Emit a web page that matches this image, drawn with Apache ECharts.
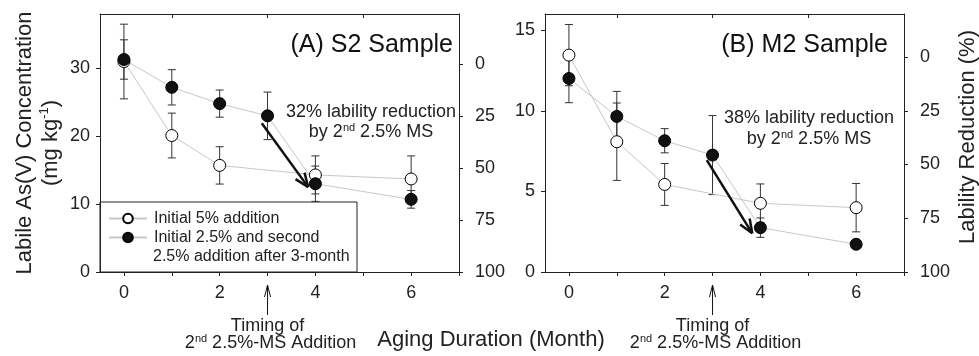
<!DOCTYPE html>
<html>
<head>
<meta charset="utf-8">
<title>Labile As(V) Concentration</title>
<script src="https://cdn.jsdelivr.net/npm/echarts@6/dist/echarts.min.js"></script>
<style>
  html, body { margin: 0; padding: 0; background: #fff; }
  #chart { width: 979px; height: 356px; }
</style>
</head>
<body>
<div id="chart"></div>
<script>
// (A) S2 sample
var monthsOpenA = [0, 1, 2, 4, 6];
var openA = [31.0, 20.1, 15.7, 14.3, 13.7];
var openErrA = [5.5, 3.3, 2.75, 2.8, 3.4];
var monthsFillA = [0, 1, 2, 3, 4, 6];
var fillA = [31.3, 27.2, 24.8, 23.0, 13.0, 10.7];
var fillErrA = [2.9, 2.6, 2.0, 3.5, 2.6, 1.3];
// (B) M2 sample
var monthsOpenB = [0, 1, 2, 4, 6];
var openB = [13.45, 8.08, 5.43, 4.26, 3.99];
var openErrB = [1.9, 2.4, 1.3, 1.2, 1.5];
var monthsFillB = [0, 1, 2, 3, 4, 6];
var fillB = [12.0, 9.65, 8.14, 7.25, 2.75, 1.72];
var fillErrB = [1.5, 1.55, 0.75, 2.45, 0.6, 0.2];

// arrows: [x1, y1, x2, y2] in months / concentration
var arrowA = [2.88, 21.9, 3.85, 12.5];
var arrowB = [2.88, 6.94, 3.83, 2.4];
var timingMonth = 3;

var monthLabels = [0, 2, 4, 6];
var monthTicks = [0, 1, 2, 3, 4, 5, 6, 7];
var topTicks = [1, 3, 5];
var concTicksA = [0, 10, 20, 30];
var concTicksB = [0, 5, 10, 15];
var reductionTicks = [0, 25, 50, 75, 100];

var nameOpen = 'Initial 5% addition';
var nameFill = 'Initial 2.5% and second';

var FONT = 'Liberation Sans, Arial, sans-serif';
var INK = '#222';
var supRich = { sup: { fontSize: 11, verticalAlign: 'top', fontFamily: FONT, fill: INK, color: INK } };

function pairs(xs, ys) {
    return xs.map(function (x, i) { return [x, ys[i]]; });
}

function errSeries(xs, ys, es, ai) {
    return {
        type: 'custom', xAxisIndex: ai * 2, yAxisIndex: ai * 2, silent: true, z: 2,
        data: xs.map(function (x, i) { return [x, ys[i] - es[i], ys[i] + es[i]]; }),
        renderItem: function (params, api) {
            var lo = api.coord([api.value(0), api.value(1)]);
            var hi = api.coord([api.value(0), api.value(2)]);
            var w = 4, st = { stroke: '#333', lineWidth: 1 };
            return { type: 'group', children: [
                { type: 'line', shape: { x1: lo[0], y1: lo[1], x2: hi[0], y2: hi[1] }, style: st },
                { type: 'line', shape: { x1: lo[0] - w, y1: lo[1], x2: lo[0] + w, y2: lo[1] }, style: st },
                { type: 'line', shape: { x1: hi[0] - w, y1: hi[1], x2: hi[0] + w, y2: hi[1] }, style: st }
            ] };
        }
    };
}

function lineSeries(name, xs, ys, ai, filled) {
    return {
        type: 'line', name: name, xAxisIndex: ai * 2, yAxisIndex: ai * 2, z: 3,
        data: pairs(xs, ys),
        symbol: 'circle', symbolSize: 12, showAllSymbol: true,
        lineStyle: { color: '#c8c8c8', width: 1 },
        itemStyle: { color: filled ? '#111' : '#fff', borderColor: '#000', borderWidth: 1 },
        emphasis: { disabled: true }
    };
}

function arrowSeries(arr, ai) {
    return {
        type: 'custom', xAxisIndex: ai * 2, yAxisIndex: ai * 2, silent: true, z: 4,
        data: [arr],
        renderItem: function (params, api) {
            var a = api.coord([api.value(0), api.value(1)]);
            var b = api.coord([api.value(2), api.value(3)]);
            var ang = Math.atan2(b[1] - a[1], b[0] - a[0]);
            var L = 15, sp = 0.38, st = { stroke: '#111', lineWidth: 2.5 };
            return { type: 'group', children: [
                { type: 'line', shape: { x1: a[0], y1: a[1], x2: b[0], y2: b[1] }, style: st },
                { type: 'line', shape: { x1: b[0], y1: b[1], x2: b[0] - L * Math.cos(ang - sp), y2: b[1] - L * Math.sin(ang - sp) }, style: st },
                { type: 'line', shape: { x1: b[0], y1: b[1], x2: b[0] - L * Math.cos(ang + sp), y2: b[1] - L * Math.sin(ang + sp) }, style: st }
            ] };
        }
    };
}

function timingSeries(ai) {
    return {
        type: 'custom', xAxisIndex: ai * 2, yAxisIndex: ai * 2, silent: true, clip: false,
        data: [[timingMonth, 0]],
        renderItem: function (params, api) {
            var p = api.coord([api.value(0), api.value(1)]);
            var x = p[0], y0 = p[1];
            var st = { stroke: '#111', lineWidth: 1 };
            return { type: 'group', children: [
                { type: 'line', shape: { x1: x, y1: y0 + 13, x2: x, y2: y0 + 43 }, style: st },
                { type: 'line', shape: { x1: x, y1: y0 + 13, x2: x - 3, y2: y0 + 25 }, style: st },
                { type: 'line', shape: { x1: x, y1: y0 + 13, x2: x + 3, y2: y0 + 25 }, style: st },
                { type: 'text', x: x, y: y0 + 54, style: { text: 'Timing of', font: '18px ' + FONT, fill: INK, align: 'center', verticalAlign: 'middle' } },
                { type: 'text', x: x + 3, y: y0 + 71, style: { text: '2{sup|nd} 2.5%-MS Addition', font: '18px ' + FONT, fill: INK, align: 'center', verticalAlign: 'middle', lineHeight: 20, rich: supRich } }
            ] };
        }
    };
}

function bottomAxis(gi) {
    return {
        type: 'value', gridIndex: gi, position: 'bottom', min: -0.5, max: 7,
        axisLine: { onZero: false, lineStyle: { color: INK, width: 1 } },
        axisTick: { length: 4, customValues: monthTicks, lineStyle: { color: INK } },
        axisLabel: { customValues: monthLabels, fontSize: 18, fontFamily: FONT, color: INK, margin: 12 },
        splitLine: { show: false }
    };
}
function topAxis(gi) {
    return {
        type: 'value', gridIndex: gi, position: 'top', min: -0.5, max: 7,
        axisLine: { onZero: false, lineStyle: { color: INK, width: 1 } },
        axisTick: { inside: true, length: 4, customValues: topTicks, lineStyle: { color: INK } },
        axisLabel: { show: false },
        splitLine: { show: false }
    };
}
function concAxis(gi, max, ticks) {
    return {
        type: 'value', gridIndex: gi, position: 'left', min: 0, max: max,
        axisLine: { show: true, onZero: false, lineStyle: { color: INK, width: 1 } },
        axisTick: { show: true, length: 4, customValues: ticks, lineStyle: { color: INK } },
        axisLabel: { customValues: ticks, fontSize: 18, fontFamily: FONT, color: INK, margin: 10 },
        splitLine: { show: false }
    };
}
function reductionAxis(gi, min) {
    return {
        type: 'value', gridIndex: gi, position: 'right', inverse: true, min: min, max: 100,
        axisLine: { show: true, onZero: false, lineStyle: { color: INK, width: 1 } },
        axisTick: { show: true, length: 4, customValues: reductionTicks, lineStyle: { color: INK } },
        axisLabel: { customValues: reductionTicks, fontSize: 18, fontFamily: FONT, color: INK, margin: 16 },
        splitLine: { show: false }
    };
}

var chart = echarts.init(document.getElementById('chart'), null, { renderer: 'canvas' });
chart.setOption({
    animation: false,
    backgroundColor: '#fff',
    grid: [
        { left: 100, top: 14, width: 359, height: 258 },
        { left: 545, top: 14, width: 359, height: 258 }
    ],
    xAxis: [bottomAxis(0), topAxis(0), bottomAxis(1), topAxis(1)],
    yAxis: [concAxis(0, 38, concTicksA), reductionAxis(0, -24), concAxis(1, 16, concTicksB), reductionAxis(1, -20)],
    legend: {
        data: [nameOpen, nameFill],
        orient: 'vertical', left: 108, top: 209, padding: 0,
        itemWidth: 38, itemHeight: 12, itemGap: 0, selectedMode: false,
        textStyle: { fontSize: 16, fontFamily: FONT, color: INK, lineHeight: 19, padding: [0, 0, 0, 2] }
    },
    series: [
        errSeries(monthsOpenA, openA, openErrA, 0),
        errSeries(monthsFillA, fillA, fillErrA, 0),
        lineSeries(nameOpen, monthsOpenA, openA, 0, false),
        lineSeries(nameFill, monthsFillA, fillA, 0, true),
        arrowSeries(arrowA, 0),
        timingSeries(0),
        errSeries(monthsOpenB, openB, openErrB, 1),
        errSeries(monthsFillB, fillB, fillErrB, 1),
        lineSeries(nameOpen, monthsOpenB, openB, 1, false),
        lineSeries(nameFill, monthsFillB, fillB, 1, true),
        arrowSeries(arrowB, 1),
        timingSeries(1)
    ],
    graphic: [
        // legend frame + wrapped second line
        { type: 'rect', z: 0, shape: { x: 100, y: 202, width: 257, height: 70 }, style: { fill: '#fff', stroke: INK, lineWidth: 1 } },
        { type: 'text', x: 153, y: 257, z: 5, style: { text: '2.5% addition after 3-month', font: '16px ' + FONT, fill: INK, verticalAlign: 'middle' } },
        // panel titles
        { type: 'text', x: 453, y: 45, style: { text: '(A) S2 Sample', font: '25px ' + FONT, fill: '#111', align: 'right', verticalAlign: 'middle' } },
        { type: 'text', x: 888, y: 45, style: { text: '(B) M2 Sample', font: '25px ' + FONT, fill: '#111', align: 'right', verticalAlign: 'middle' } },
        // reduction notes
        { type: 'text', x: 371, y: 122, style: { text: '32% lability reduction\nby 2{sup|nd} 2.5% MS', font: '18px ' + FONT, fill: INK, align: 'center', verticalAlign: 'middle', lineHeight: 20, rich: supRich } },
        { type: 'text', x: 809, y: 129, style: { text: '38% lability reduction\nby 2{sup|nd} 2.5% MS', font: '18px ' + FONT, fill: INK, align: 'center', verticalAlign: 'middle', lineHeight: 21, rich: supRich } },
        // axis titles
        { type: 'text', x: 38, y: 143, rotation: Math.PI / 2, style: { text: 'Labile As(V) Concentration\n(mg kg{sup|-1})', font: '22px ' + FONT, fill: INK, align: 'center', verticalAlign: 'middle', lineHeight: 26, rich: { sup: { fontSize: 13, verticalAlign: 'top', fontFamily: FONT, fill: INK } } } },
        { type: 'text', x: 968, y: 137, rotation: Math.PI / 2, style: { text: 'Lability Reduction (%)', font: '22px ' + FONT, fill: INK, align: 'center', verticalAlign: 'middle' } },
        { type: 'text', x: 491, y: 340, style: { text: 'Aging Duration (Month)', font: '22px ' + FONT, fill: INK, align: 'center', verticalAlign: 'middle' } }
    ]
});
</script>
</body>
</html>
